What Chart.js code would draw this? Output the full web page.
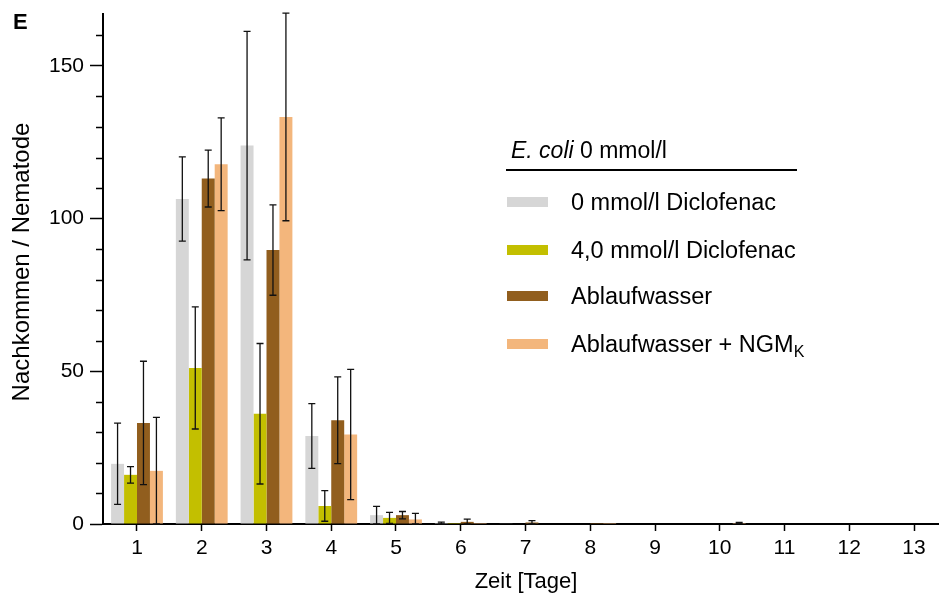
<!DOCTYPE html>
<html lang="de">
<head>
  <meta charset="UTF-8">
  <title>Nachkommen / Nematode</title>
  <script src="https://cdn.jsdelivr.net/npm/chart.js"></script>
  <style>
    body {
      margin: 0;
      padding: 0;
      background: #fff;
      font-family: Arial, "Liberation Sans", sans-serif;
    }
    .wrap {
      position: relative;
      width: 939px;
      height: 599px;
    }
    canvas {
      display: block;
    }
    .txt {
      position: absolute;
      font-size: 22px;
      line-height: 22px;
      color: #000;
      white-space: nowrap;
    }
    .panel {
      left: 13px;
      top: 11px;
      font-weight: bold;
    }
    .ytitle {
      left: 21px;
      top: 262px;
      font-size: 24px;
      line-height: 24px;
      transform: translate(-50%, -50%) rotate(-90deg);
    }
    .xtitle {
      left: 526px;
      top: 581px;
      transform: translate(-50%, -50%);
    }
    .legend-title {
      left: 511px;
      top: 139px;
      font-size: 23px;
      line-height: 23px;
    }
    .legend-line {
      position: absolute;
      left: 506px;
      top: 169px;
      width: 291px;
      height: 2px;
      background: #000;
    }
    .swatch {
      position: absolute;
      left: 507px;
      width: 41px;
      height: 10px;
    }
    .entry {
      left: 571px;
      font-size: 23.5px;
      line-height: 24px;
    }
    sub {
      font-size: 16px;
      vertical-align: -5px;
      line-height: 0;
    }
  </style>
</head>
<body>
  <div class="wrap">
    <canvas id="chart" width="939" height="599"></canvas>
    <div class="txt panel">E</div>
    <div class="txt ytitle">Nachkommen / Nematode</div>
    <div class="txt xtitle">Zeit [Tage]</div>
    <div class="txt legend-title"><i>E. coli</i> 0 mmol/l</div>
    <div class="legend-line"></div>
    <div id="legend"></div>
  </div>

  <script>
    // days on the x axis
    const days = [1, 2, 3, 4, 5, 6, 7, 8, 9, 10, 11, 12, 13];
    const yTicks = [0, 50, 100, 150];

    const seriesNames = ['0 mmol/l Diclofenac', '4,0 mmol/l Diclofenac', 'Ablaufwasser', 'Ablaufwasser + NGM<sub>K</sub>'];
    const seriesColors = ['#d6d6d6', '#c3bf00', '#915e1e', '#f3b67c'];

    // means and standard deviations
    const diclo0 = [19.7, 106.4, 123.9, 28.8, 2.9, 0.3, 0.2, 0, 0, 0, 0, 0, 0];
    const diclo0Err = [13.3, 13.8, 37.4, 10.6, 2.9, 0.3, 0, 0, 0, 0, 0, 0, 0];
    const diclo4 = [16.1, 51.1, 36.1, 5.9, 2.0, 0.3, 0, 0, 0, 0, 0, 0, 0];
    const diclo4Err = [2.7, 20.0, 23.0, 5.0, 1.8, 0, 0, 0, 0, 0, 0, 0, 0];
    const ablauf = [33.1, 113.1, 89.7, 34.0, 2.9, 0.7, 0.5, 0.3, 0, 0, 0, 0, 0];
    const ablaufErr = [20.2, 9.3, 14.8, 14.2, 1.2, 0.9, 0.6, 0, 0, 0, 0, 0, 0];
    const ablaufNgm = [17.4, 117.8, 133.3, 29.3, 1.5, 0.3, 0, 0.3, 0, 0.3, 0, 0, 0];
    const ablaufNgmErr = [17.5, 15.2, 34.0, 21.3, 2.0, 0, 0, 0, 0, 0.2, 0, 0, 0];

    const values = [diclo0, diclo4, ablauf, ablaufNgm];
    const errors = [diclo0Err, diclo4Err, ablaufErr, ablaufNgmErr];

    // html legend
    const legendEl = document.getElementById('legend');
    const legendY = [202, 250, 296, 344];
    seriesNames.forEach((name, i) => {
      const sw = document.createElement('div');
      sw.className = 'swatch';
      sw.style.top = (legendY[i] - 5) + 'px';
      sw.style.background = seriesColors[i];
      legendEl.appendChild(sw);
      const t = document.createElement('div');
      t.className = 'txt entry';
      t.style.top = (legendY[i] - 12) + 'px';
      t.innerHTML = name;
      legendEl.appendChild(t);
    });

    // error bars + minor ticks
    const extras = {
      id: 'extras',
      afterDatasetsDraw(chart) {
        const c = chart.ctx;
        const y = chart.scales.y;
        c.save();
        c.strokeStyle = '#111';
        c.lineWidth = 1.3;
        chart.data.datasets.forEach((ds, i) => {
          const meta = chart.getDatasetMeta(i);
          meta.data.forEach((bar, j) => {
            const e = errors[i][j];
            if (!e) return;
            const v = values[i][j];
            const top = y.getPixelForValue(v + e);
            const bot = y.getPixelForValue(Math.max(0, v - e));
            c.beginPath();
            c.moveTo(bar.x, top);
            c.lineTo(bar.x, bot);
            c.moveTo(bar.x - 3.5, top);
            c.lineTo(bar.x + 3.5, top);
            c.moveTo(bar.x - 3.5, bot);
            c.lineTo(bar.x + 3.5, bot);
            c.stroke();
          });
        });
        // minor ticks every 10
        c.strokeStyle = '#000';
        c.lineWidth = 1.5;
        const left = chart.chartArea.left;
        for (let v = 10; v <= y.max; v += 10) {
          if (v % 50 === 0) continue;
          const py = Math.round(y.getPixelForValue(v)) + 0.5;
          c.beginPath();
          c.moveTo(left - 7, py);
          c.lineTo(left, py);
          c.stroke();
        }
        c.restore();
      }
    };

    const ctx = document.getElementById('chart').getContext('2d');
    new Chart(ctx, {
      type: 'bar',
      data: {
        datasets: values.map((vals, i) => ({
          label: seriesNames[i],
          data: days.map((d, j) => ({ x: d, y: vals[j] })),
          backgroundColor: seriesColors[i],
          borderWidth: 0,
          barPercentage: 1,
          categoryPercentage: 0.8
        }))
      },
      options: {
        responsive: false,
        animation: false,
        layout: { padding: { left: 0, top: 14, right: 0, bottom: 0 } },
        plugins: {
          legend: { display: false },
          tooltip: { enabled: false }
        },
        scales: {
          x: {
            type: 'linear',
            offset: false,
            min: 0.475,
            max: 13.386,
            afterBuildTicks: s => { s.ticks = days.map(v => ({ value: v })); },
            afterFit: s => { s.height = 75; },
            grid: {
              offset: false,
              drawOnChartArea: false,
              drawTicks: true,
              tickLength: 7,
              tickWidth: 1.5,
              tickColor: '#000'
            },
            border: { display: true, color: '#000', width: 2 },
            ticks: {
              color: '#000',
              padding: 5,
              maxRotation: 0,
              autoSkip: false,
              font: { family: 'Arial, "Liberation Sans", sans-serif', size: 21 }
            }
          },
          y: {
            min: 0,
            max: 167,
            afterBuildTicks: s => { s.ticks = yTicks.map(v => ({ value: v })); },
            afterFit: s => { s.width = 103; s.paddingTop = 0; s.paddingBottom = 0; },
            grid: {
              drawOnChartArea: false,
              drawTicks: true,
              tickLength: 13,
              tickWidth: 1.5,
              tickColor: '#000'
            },
            border: { display: true, color: '#000', width: 2 },
            ticks: {
              color: '#000',
              padding: 6,
              font: { family: 'Arial, "Liberation Sans", sans-serif', size: 21 }
            }
          }
        }
      },
      plugins: [extras]
    });
  </script>
</body>
</html>
